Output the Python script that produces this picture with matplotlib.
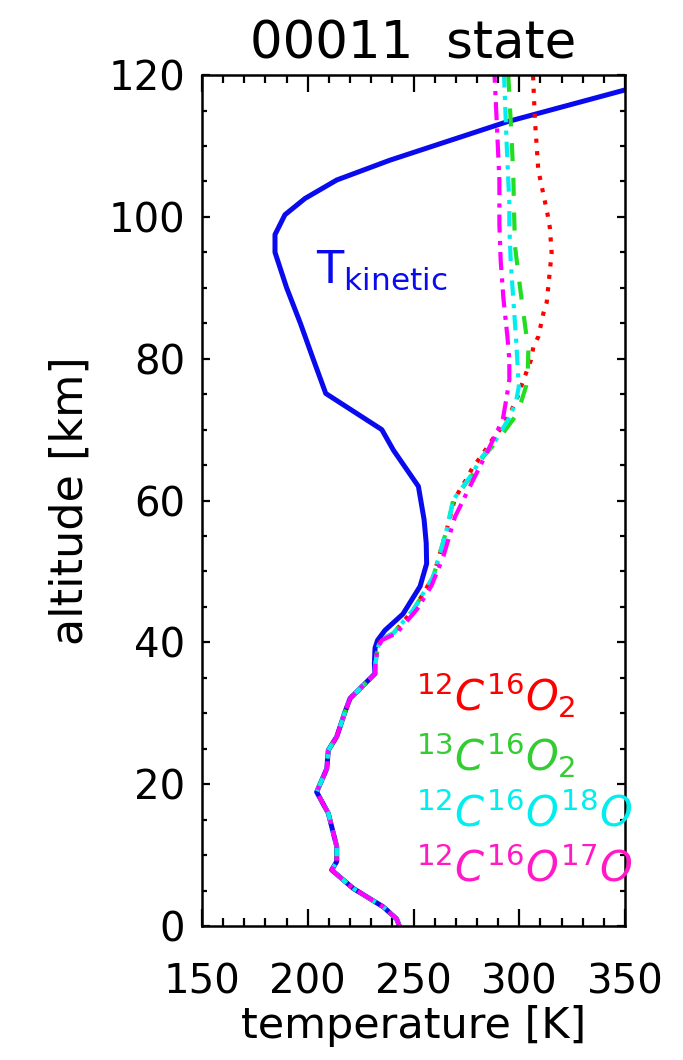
import matplotlib
matplotlib.use("Agg")
import matplotlib.pyplot as plt
from matplotlib.ticker import MultipleLocator
import numpy as np

# ---- data ----
tkin_alt = [0, 1, 2.7, 5.3, 7.9, 9.1, 11.2, 15.9, 18.9, 22.2, 24.8, 26.7, 30.2, 32.1,
            34.2, 35.6, 37, 39.2, 40.3, 41.7, 44, 47.9, 51.1, 54, 57.3, 62, 67.1, 70,
            75.1, 80, 85, 90, 95, 97.5, 100.3, 102.6, 105.2, 108, 113.4, 117.9, 121]
tkin_T = [243.3, 242, 235.7, 221.5, 211.3, 213.7, 213.7, 209.7, 204.2, 209, 209.7, 213.7,
          217.6, 220, 227.1, 231.8, 231.5, 231.8, 233, 236.5, 245, 253.1, 256.2, 256,
          255, 252.3, 240.5, 235, 208.5, 202.5, 196.5, 190, 184.5, 184.5, 189.2, 198.7,
          213.7, 238.9, 294.1, 350, 365]

# LTE part shared by all isotopologues (0-39 km)
lte_alt = [0, 1, 2.7, 5.3, 7.9, 9.1, 11.2, 15.9, 18.9, 22.2, 24.8, 26.7, 30.2, 32.1,
           34.2, 35.6, 37, 39.2]
lte_T = [243.3, 242, 235.7, 221.5, 211.3, 213.7, 213.7, 209.7, 204.2, 209, 209.7, 213.7,
         217.6, 220, 227.1, 231.8, 232, 233]

c626_alt = [40.3, 41.3, 44.6, 49.3, 52.6, 55.9, 60.3, 61.7, 63.1, 64.7, 66, 67.4, 68.8,
            70.2, 72.5, 74.9, 76.5, 78.2, 79.8, 81.7, 83.1, 86.4, 88, 91.6, 94.9, 98.4,
            100.5, 106.6, 113.7, 120]
c626_T = [234.5, 240.5, 250, 259.4, 262.5, 265.7, 269.6, 272.3, 275.2, 278, 281.4, 284.6,
          287.7, 291.4, 296, 299.6, 301.4, 303.5, 305.5, 306.7, 309, 311.4, 313, 314.2,
          315.3, 314.5, 313.3, 309, 307.4, 306.5]

c636_alt = [40.3, 41.3, 44.6, 49.3, 52.6, 55.9, 60.1, 63.8, 66.2, 68.3, 71.8, 74, 76.1,
            78, 81.2, 85.9, 90.9, 95.8, 101, 105.7, 110.9, 120]
c636_T = [234.5, 240.5, 250, 259.4, 262.5, 265.7, 268.8, 278.3, 283, 289.3, 298, 301,
          303.2, 304, 304.3, 302.2, 300, 298, 297.5, 297.2, 296.4, 294.8]

c628_alt = [40.3, 41.3, 44.6, 49.3, 52.6, 55.9, 60.1, 63.8, 66.2, 68.3, 71.8, 74, 76.1,
            79.6, 82.7, 88.3, 93.5, 98.6, 101.9, 109.9, 118.4, 120]
c628_T = [234.5, 240.5, 250, 259.4, 262.5, 265.7, 268.8, 277.8, 282.5, 288.5, 295.5,
          298.5, 299.8, 299.1, 298.5, 297.2, 296, 295.3, 295.3, 294.1, 293, 292.8]

c627_alt = [40.3, 41.3, 44.6, 48, 52, 57.7, 62, 66.7, 71.4, 74.7, 77, 79.8, 83.1, 88.5,
            93.9, 98.9, 105.2, 113.7, 118.8, 120]
c627_T = [235, 242, 251.5, 258.5, 264, 269.6, 276.7, 284.6, 292.2, 294.1, 295.3, 295.3,
          294.4, 292.5, 291.2, 290.6, 290.6, 289.3, 288.5, 288.3]

xticks = [150, 200, 250, 300, 350]
yticks = [0, 20, 40, 60, 80, 100, 120]

plt.rcParams['lines.scale_dashes'] = False
plt.rcParams['font.family'] = ['DejaVu Sans']

fig = plt.figure(figsize=(6.83, 10.6), dpi=100)
ax = fig.add_axes([0.2958, 0.1264, 0.6193, 0.8028])

blue = '#0a0aee'
red = '#ff0000'
green = '#22dd22'
cyan = '#00eeee'
magenta = '#ff00ff'

ax.plot(tkin_T, tkin_alt, color=blue, lw=3.6, solid_joinstyle='round')

def full(a, t):
    return lte_T + t, lte_alt + a

T, A = full(c626_alt, c626_T)
ax.plot(T, A, color=red, lw=3.0, linestyle=(0, (3, 6)))
T, A = full(c636_alt, c636_T)
ax.plot(T, A, color=green, lw=3.0, linestyle=(0, (13, 12)))
T, A = full(c628_alt, c628_T)
ax.plot(T, A, color=cyan, lw=3.0, linestyle=(0, (11, 5, 3, 6)))
T, A = full(c627_alt, c627_T)
ax.plot(T, A, color=magenta, lw=3.0, linestyle=(0, (13, 5, 3, 6)))

ax.set_xlim(150, 350)
ax.set_ylim(0, 120)
ax.set_xticks(xticks)
ax.set_yticks(yticks)
ax.xaxis.set_minor_locator(MultipleLocator(10))
ax.yaxis.set_minor_locator(MultipleLocator(5))
ax.tick_params(axis='both', which='both', direction='in', top=True, right=True,
               width=1.6, colors='black')
ax.tick_params(axis='x', which='major', length=12, pad=26, labelsize=29)
ax.tick_params(axis='x', which='minor', length=6)
ax.tick_params(axis='y', which='major', length=6, pad=12, labelsize=29)
ax.tick_params(axis='y', which='minor', length=3.5)
for s in ax.spines.values():
    s.set_linewidth(1.8)

ax.set_xlabel('temperature [K]', fontsize=31, labelpad=2)
ax.set_ylabel('altitude [km]', fontsize=32, labelpad=12)
ax.set_title('00011  state', fontsize=37, pad=12)

ax.text(204, 95.5, r'$\mathrm{T}_{\mathrm{kinetic}}$', color=blue, fontsize=32,
        ha='left', va='top')

lab_fs = 30
lx = 251
ax.text(lx, 32.5, r'$^{12}\mathit{C}^{16}\mathit{O}_2$', color=red, fontsize=lab_fs,
        ha='left', va='center')
ax.text(lx, 24.0, r'$^{13}\mathit{C}^{16}\mathit{O}_2$', color='#33cc33', fontsize=lab_fs,
        ha='left', va='center')
ax.text(lx, 15.8, r'$^{12}\mathit{C}^{16}\mathit{O}^{18}\mathit{O}$', color=cyan,
        fontsize=lab_fs, ha='left', va='center')
ax.text(lx, 8.0, r'$^{12}\mathit{C}^{16}\mathit{O}^{17}\mathit{O}$', color='#ff1ac6',
        fontsize=lab_fs, ha='left', va='center')

fig.savefig('out.png', dpi=100)
